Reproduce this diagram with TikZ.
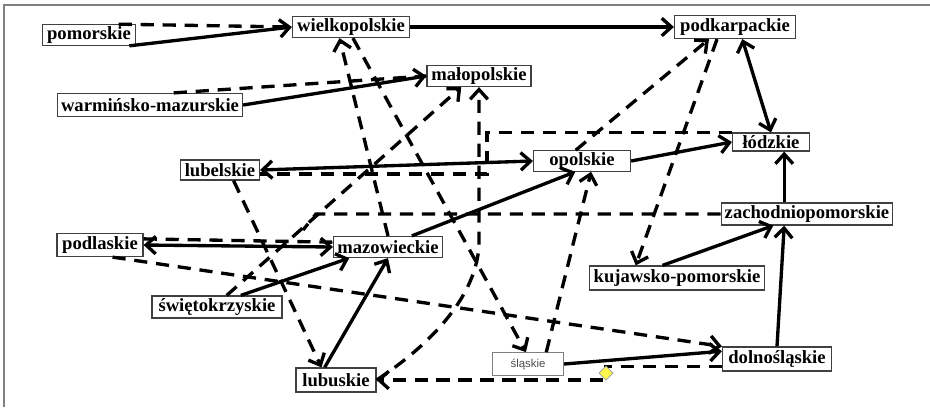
\documentclass[tikz,border=0pt]{standalone}
\usepackage{fontspec}
\setmainfont{Liberation Serif}
\newfontfamily\labelsans{Liberation Sans}
\usetikzlibrary{arrows.meta}
\tikzstyle{region} = [rectangle, draw=black!75, line width=0.7pt, fill=white, text=black, font=\bfseries\fontsize{10.6}{12}\selectfont, inner xsep=2pt, inner ysep=1pt, minimum height=0.42cm]
\tikzstyle{minor} = [rectangle, draw=black!50, line width=0.7pt, fill=white, text=black!70, font=\labelsans\fontsize{6.5}{8}\selectfont, minimum height=0.44cm]
\tikzstyle{arrow} = [line width=1.9pt, ->, >={Straight Barb[length=5.5pt,width=10pt]}]
\tikzstyle{twoway} = [arrow, <->]
\tikzstyle{link} = [line width=1.9pt, dash pattern=on 7.5pt off 5pt]
\tikzstyle{linkarrow} = [link, arrow]

\begin{document}
\begin{tikzpicture}[x=0.02cm, y=-0.02cm]
    \useasboundingbox (0,0) rectangle (930,407);
    \draw [black!50, line width=0.8pt] (4,407) -- (4,5) -- (930,5);

    % regions
    \node (pom) [region, minimum width=1.86cm, minimum height=0.36cm] at (89,35) {pomorskie};
    \node (wlkp) [region, minimum width=2.34cm] at (351,27) {wielkopolskie};
    \node (podk) [region, minimum width=2.42cm, minimum height=0.46cm] at (735,27) {podkarpackie};
    \node (malop) [region, minimum width=2.08cm] at (479,76) {małopolskie};
    \node (warm) [region, minimum width=3.7cm, minimum height=0.46cm] at (150,105) {warmińsko-mazurskie};
    \node (lodz) [region, minimum width=1.54cm, minimum height=0.36cm] at (771,142) {łódzkie};
    \node (lubel) [region, minimum width=1.58cm, minimum height=0.4cm] at (220,170) {lubelskie};
    \node (opol) [region, minimum width=1.94cm, minimum height=0.38cm] at (582,161) {opolskie};
    \node (zach) [region, minimum width=3.4cm, minimum height=0.44cm] at (807,214) {zachodniopomorskie};
    \node (podl) [region, minimum width=1.72cm, minimum height=0.46cm] at (100,245) {podlaskie};
    \node (maz) [region, minimum width=2.18cm] at (388,247) {mazowieckie};
    \node (kuj) [region, minimum width=3.5cm, minimum height=0.48cm] at (677,278) {kujawsko-pomorskie};
    \node (swiet) [region, minimum width=2.6cm, minimum height=0.44cm] at (217,307) {świętokrzyskie};
    \node (slask) [minor, minimum width=1.42cm] at (528,364) {śląskie};
    \node (doln) [region, minimum width=2.18cm, minimum height=0.48cm] at (777,359) {dolnośląskie};
    \node (lubus) [region, minimum width=1.6cm, minimum height=0.48cm] at (336,380) {lubuskie};

    % solid links
    \draw [arrow] (pom.-15) -- (wlkp.west);
    \draw [arrow] (wlkp.east) -- (podk.west);
    \draw [arrow] (warm.east) -- (malop.west);
    \draw [twoway] (lubel.east) -- (opol.west);
    \draw [twoway] (podk.-59) -- (lodz.north);
    \draw [arrow] (opol.east) -- (lodz.west);
    \draw [arrow] (zach.153) -- (zach.153 |- lodz.south);
    \draw [arrow] (kuj.139) -- (zach.199);
    \draw [arrow] (doln.north) -- (zach.207);
    \draw [arrow] (slask.east) -- (doln.172);
    \draw [twoway] (podl.east) -- (maz.west);
    \draw [arrow] (swiet.26) -- (maz.196);
    \draw [arrow] (lubus.132) -- (maz.south);
    \draw [arrow] (maz.25) -- (opol.238);

    % dashed links
    \draw [link] (pom.20) -- (wlkp.west);
    \draw [link] (warm.27) -- (malop.west);
    \draw [link] (podl.8) -- (maz.175);
    \draw [linkarrow] (maz.north) -- (wlkp.224);
    \draw [linkarrow] (wlkp.-80) -- (slask.100);
    \draw [linkarrow] (swiet.50) -- (malop.212);
    \draw [linkarrow] (lubel.-38) -- (lubus.139);
    \draw [linkarrow] (podl.-44) -- (doln.north west);
    \draw [linkarrow] (slask.33) -- (opol.-50);
    \draw [linkarrow] (opol.120) -- (podk.205);
    \draw [linkarrow] (podk.214) -- (kuj.163);
    \coordinate (ljoin) at (487,174);
    \draw [link] (lodz.north west) -| (ljoin) -- (ljoin -| lubel.east);
    \coordinate (mbend) at (479,245);
    \draw [linkarrow] (lubus.east) .. controls (415,355) and (476,305) .. (mbend) -- (mbend |- malop.south);
    \coordinate (knee) at (606,380);
    \draw [linkarrow] (doln.188) -| (knee) -- (knee -| lubus.east);
    \coordinate (zturn) at (316,214);
    \coordinate (zend) at (303,230);
    \draw [link] (zach.west) -- (zturn) -- (zend);

    \filldraw [fill=yellow!70, draw=black!40, line width=0.4pt] (606,366) -- (613,373) -- (606,380) -- (599,373) -- cycle;
\end{tikzpicture}
\end{document}
